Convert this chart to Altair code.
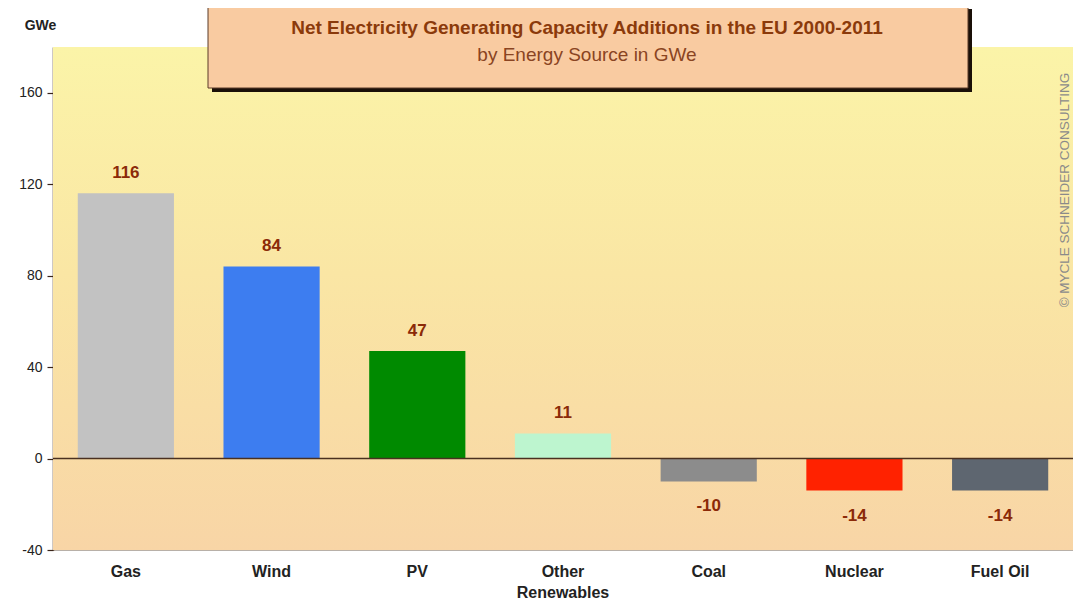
import altair as alt
import pandas as pd

sources = ["Gas", "Wind", "PV", "Other Renewables", "Coal", "Nuclear", "Fuel Oil"]
values = [116, 84, 47, 11, -10, -14, -14]
colors = ["#C2C2C2", "#3D7DF0", "#008A00", "#BDF5CF", "#8C8C8C", "#FF2200", "#5E6670"]
y_ticks = [-40, 0, 40, 80, 120, 160]
title_text = "Net Electricity Generating Capacity Additions in the EU 2000-2011"
subtitle_text = "by Energy Source in GWe"
credit_text = "© MYCLE SCHNEIDER CONSULTING"
y_unit = "GWe"

W, H = 1020, 503
FONT = "Liberation Sans"
LABEL_COLOR = "#8B2A08"

df = pd.DataFrame({"source": sources, "value": values, "color": colors})
one = pd.DataFrame({"k": [0]})

x_enc = alt.X(
    "source:N",
    sort=sources,
    scale=alt.Scale(paddingInner=0.34, paddingOuter=0.17),
    axis=alt.Axis(
        title=None, labelAngle=0, labelFont=FONT, labelFontSize=16,
        labelFontWeight="bold", labelColor="#222222", labelPadding=13,
        labelLineHeight=21, ticks=False, domain=False,
        labelExpr="datum.label == 'Other Renewables' ? ['Other', 'Renewables'] : datum.label",
    ),
)
y_enc = alt.Y(
    "value:Q",
    scale=alt.Scale(domain=[-40, 180], nice=False, zero=False),
    axis=alt.Axis(
        values=y_ticks, title=y_unit, titleAngle=0, titleX=-13, titleY=-22,
        titleAlign="center", titleBaseline="middle", titleFont=FONT,
        titleFontSize=14, titleFontWeight="bold", titleColor="#222222",
        labelFont=FONT, labelFontSize=14, labelColor="#222222", labelPadding=5,
        labelExpr="'' + datum.value",
        grid=False, domainColor="#3A2418", domainWidth=1.5, tickColor="#3A2418",
        tickSize=6, tickWidth=1.2,
    ),
)

gradient = alt.Gradient(
    gradient="linear", x1=0, y1=0, x2=0, y2=1,
    stops=[
        alt.GradientStop(offset=0, color="#FBF4A8"),
        alt.GradientStop(offset=0.45, color="#FAE6A4"),
        alt.GradientStop(offset=1, color="#F8D5A6"),
    ],
)

background = alt.Chart(one).mark_rect(fill=gradient).encode(
    x=alt.value(0), x2=alt.value(W), y=alt.value(0), y2=alt.value(H)
)

bars = alt.Chart(df).mark_bar().encode(
    x=x_enc,
    y=y_enc,
    y2=alt.datum(0),
    color=alt.Color("color:N", scale=None),
)

zero_rule = alt.Chart(one).mark_rule(color="#4A3020", strokeWidth=1.5).encode(
    y=alt.datum(0)
)

pos_labels = alt.Chart(df).transform_filter("datum.value >= 0").transform_calculate(
    label="'' + datum.value"
).mark_text(
    font=FONT, fontSize=17, fontWeight="bold", color=LABEL_COLOR,
    baseline="bottom", dy=-11,
).encode(x=alt.X("source:N", sort=sources), y="value:Q", text="label:N")

neg_labels = alt.Chart(df).transform_filter("datum.value < 0").transform_calculate(
    label="'' + datum.value"
).mark_text(
    font=FONT, fontSize=17, fontWeight="bold", color=LABEL_COLOR,
    baseline="top", dy=17,
).encode(x=alt.X("source:N", sort=sources), y="value:Q", text="label:N")

box_shadow = alt.Chart(one).mark_rect(fill="#1A1008").encode(
    x=alt.value(159), x2=alt.value(919), y=alt.value(-38), y2=alt.value(45)
)
box = alt.Chart(one).mark_rect(fill="#F9CBA1", stroke="#5A3A28", strokeWidth=1).encode(
    x=alt.value(155), x2=alt.value(915), y=alt.value(-42), y2=alt.value(41)
)
title = alt.Chart(one).mark_text(
    text=title_text, font=FONT, fontSize=19, fontWeight="bold",
    color="#8B3A0B", align="center", baseline="middle",
).encode(x=alt.value(534), y=alt.value(-19))
subtitle = alt.Chart(one).mark_text(
    text=subtitle_text, font=FONT, fontSize=19, color="#8A4422",
    align="center", baseline="middle",
).encode(x=alt.value(534), y=alt.value(8))

credit = alt.Chart(one).mark_text(
    text=credit_text, font=FONT, fontSize=13.5, color="#8A8A8A",
    angle=270, align="center", baseline="middle",
).encode(x=alt.value(1012), y=alt.value(143))

chart = alt.layer(
    background, bars, zero_rule, pos_labels, neg_labels,
    box_shadow, box, title, subtitle, credit,
).properties(
    width=W, height=H,
    padding={"left": 45, "top": 39, "right": 0, "bottom": 57},
    autosize=alt.AutoSizeParams(type="none"),
    background="white",
).configure_view(stroke="#B8B0A8", strokeWidth=1)

chart.save("out.html", embed_options={"renderer": "svg", "actions": False})
